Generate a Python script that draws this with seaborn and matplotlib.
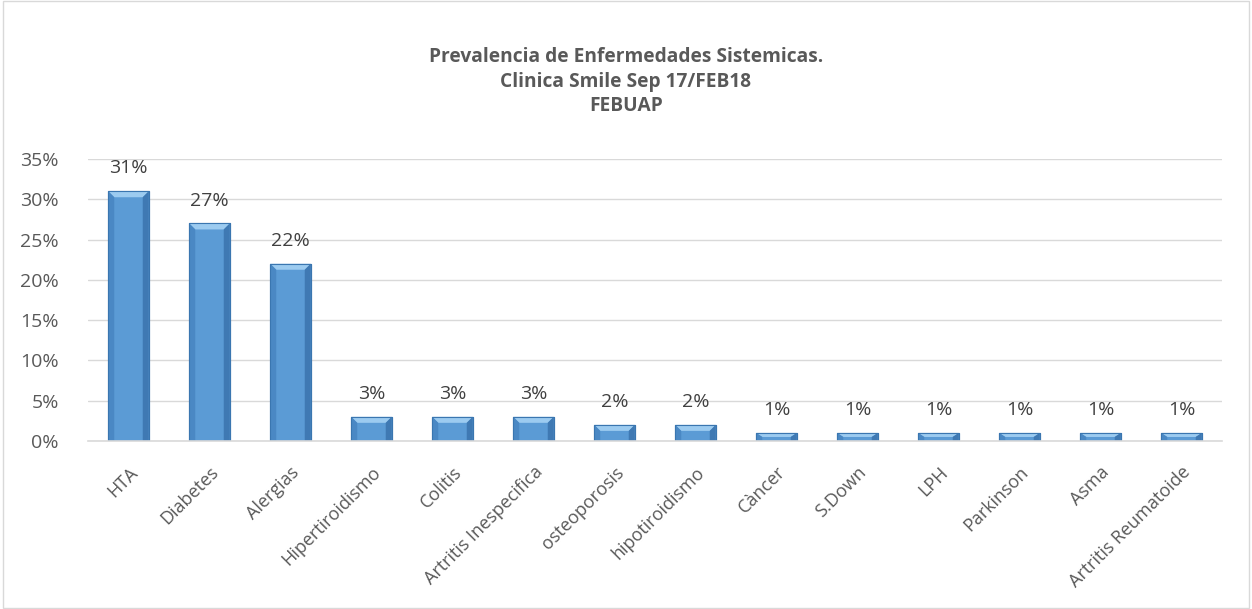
import matplotlib
matplotlib.use("Agg")
import matplotlib.pyplot as plt
import seaborn as sns
import pandas as pd
from matplotlib.patches import Polygon, Rectangle

categories = ["HTA", "Diabetes", "Alergias", "Hipertiroidismo", "Colitis",
              "Artritis Inespecifica", "osteoporosis", "hipotiroidismo", "Càncer",
              "S.Down", "LPH", "Parkinson", "Asma", "Artritis Reumatoide"]
values = [0.31, 0.27, 0.22, 0.03, 0.03, 0.03, 0.02, 0.02, 0.01, 0.01, 0.01, 0.01, 0.01, 0.01]
yticks = [0, 0.05, 0.10, 0.15, 0.20, 0.25, 0.30, 0.35]
title_lines = ["Prevalencia de Enfermedades Sistemicas.", "Clinica Smile Sep 17/FEB18", "FEBUAP"]

sns.set_theme(style="white")
plt.rcParams['font.family'] = ['Open Sans', 'DejaVu Sans']

df = pd.DataFrame({"cat": categories, "val": values})

fig = plt.figure(figsize=(12.52, 6.09), dpi=100)
ax_top, ax_bot = 159, 441
ax = fig.add_axes([88/1252, 1-ax_bot/609, (1222-88)/1252, (ax_bot-ax_top)/609])

sns.barplot(data=df, x="cat", y="val", color="#5B9BD5", width=0.5, ax=ax,
            edgecolor="#3A76B0", linewidth=0.8, saturation=1)

ax.set_ylim(0, 0.35)
ax.set_xlim(-0.5, len(categories) - 0.5)
ax.set_yticks(yticks)
ax.set_yticklabels([f"{int(round(t*100))}%" for t in yticks], fontsize=14, color="#595959")
ax.tick_params(axis='y', length=0, pad=21)
ax.tick_params(axis='x', length=0, pad=16)
ax.set_xlabel("")
ax.set_ylabel("")
ax.yaxis.grid(True, color="#D9D9D9", linewidth=1)
ax.set_axisbelow(True)
for s in ["left", "right", "top"]:
    ax.spines[s].set_visible(False)
ax.spines["bottom"].set_color("#D9D9D9")
ax.spines["bottom"].set_linewidth(1.2)

ax.set_xticks(range(len(categories)))
ax.set_xticklabels(categories, rotation=45, ha="right", rotation_mode="anchor",
                   fontsize=13, color="#595959")

# bevel highlight on the top of each bar
px_y = 0.35 / (ax_bot - ax_top)
for p in ax.patches:
    x0 = p.get_x(); w = p.get_width(); h = p.get_height()
    bh = min(6 * px_y, h * 0.5)
    dx = 6 / 81.0
    top = Polygon([[x0, h], [x0 + w, h], [x0 + w - dx, h - bh], [x0 + dx, h - bh]],
                  closed=True, facecolor="#9CCBF0", edgecolor="none", zorder=p.get_zorder() + 0.1)
    ax.add_patch(top)
    left = Polygon([[x0, h], [x0 + dx, h - bh], [x0 + dx, 0], [x0, 0]],
                   closed=True, facecolor="#4A88C4", edgecolor="none", zorder=p.get_zorder() + 0.1)
    right = Polygon([[x0 + w, h], [x0 + w - dx, h - bh], [x0 + w - dx, 0], [x0 + w, 0]],
                    closed=True, facecolor="#3F79B3", edgecolor="none", zorder=p.get_zorder() + 0.1)
    ax.add_patch(left); ax.add_patch(right)
    ax.add_patch(Rectangle((x0, 0), w, h, facecolor="none", edgecolor="#3A76B0",
                           linewidth=0.8, zorder=p.get_zorder() + 0.2))

for i, v in enumerate(values):
    ax.annotate(f"{int(round(v*100))}%", (i, v), xytext=(0, 10), textcoords="offset points",
                ha="center", va="bottom", fontsize=14, color="#404040")

fig.text(0.5, 1 - 47/609, "\n".join(title_lines), ha="center", va="top",
         fontsize=13.8, fontweight="bold", color="#595959", linespacing=1.3)

fig.patches.append(Rectangle((0.002, 0.002), 0.996, 0.996, transform=fig.transFigure,
                             fill=False, edgecolor="#D9D9D9", linewidth=1))

fig.savefig("out.png", dpi=100, facecolor="white")
